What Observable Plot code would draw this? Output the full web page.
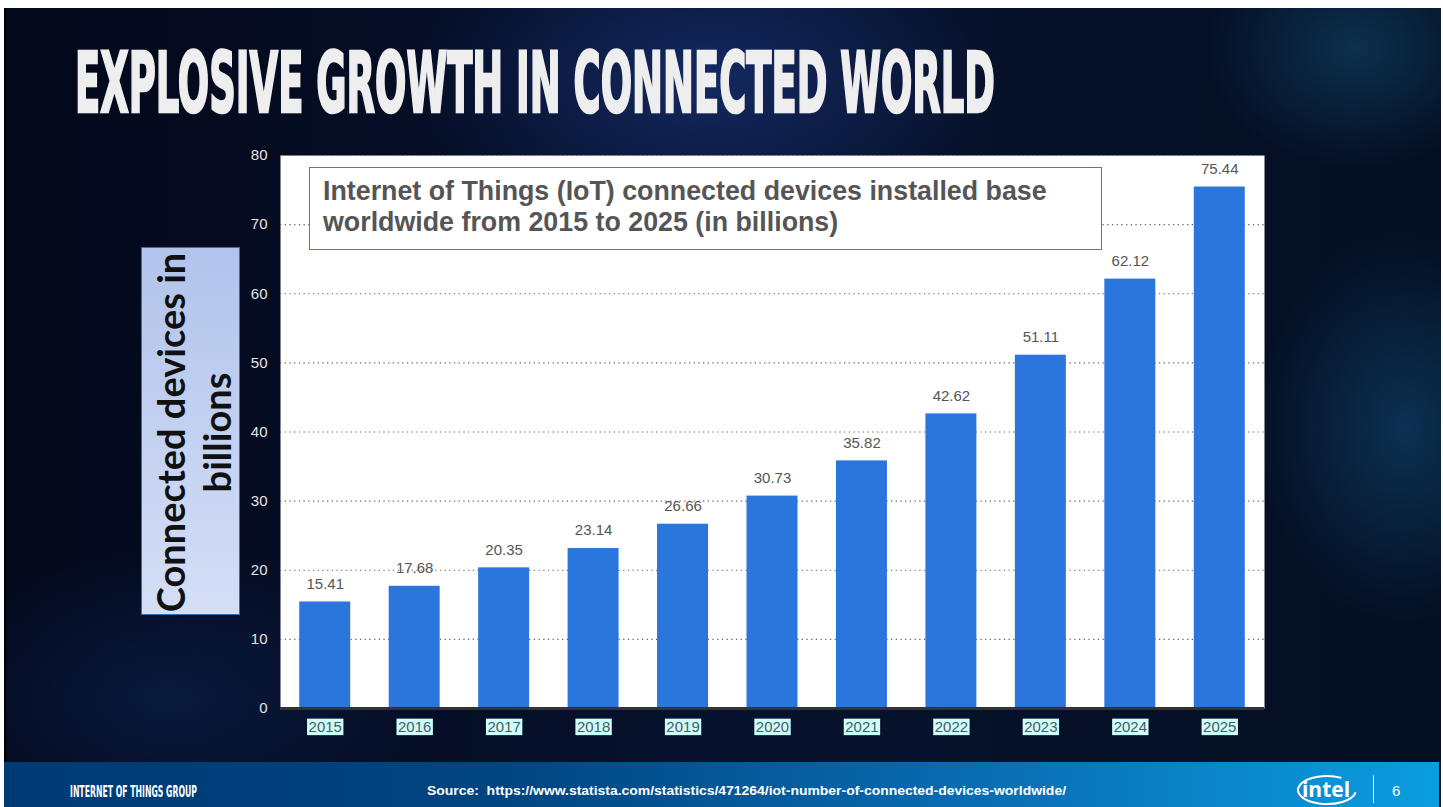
<!DOCTYPE html>
<html><head><meta charset="utf-8">
<script src="https://cdn.jsdelivr.net/npm/d3@7"></script>
<script src="https://cdn.jsdelivr.net/npm/@observablehq/plot@0.6"></script>
<style>
html,body{margin:0;padding:0;background:#fff;width:1443px;height:807px;overflow:hidden;}
#slide{position:absolute;left:4px;top:8px;width:1435px;height:799px;
 background:
  radial-gradient(ellipse 420px 230px at 700px 70px, rgba(30,60,140,0.55), rgba(0,0,0,0) 70%),
  radial-gradient(ellipse 200px 260px at 1400px 420px, rgba(20,90,140,0.45), rgba(0,0,0,0) 75%),
  radial-gradient(ellipse 200px 160px at 1350px 40px, rgba(20,80,120,0.5), rgba(0,0,0,0) 75%),
  radial-gradient(ellipse 380px 220px at 160px 690px, rgba(15,45,100,0.45), rgba(0,0,0,0) 70%),
  linear-gradient(90deg, #03081a 0%, #07122e 50%, #040f22 100%);
 border-left:2px solid #000;}
#footer{position:absolute;left:4px;top:762px;width:1435px;height:45px;
 background:linear-gradient(90deg,#003a74 0%,#004580 35%,#0a6fb5 70%,#0a9ddf 100%);}
#chart{position:absolute;left:0;top:0;}
#overlay{position:absolute;left:0;top:0;}
#subtitle{position:absolute;left:309px;top:167px;width:793px;height:83px;box-sizing:border-box;
 border:1.5px solid #2a85da;background:#fff;color:#555;font:bold 26.8px "Liberation Sans",Arial,sans-serif;
 line-height:31px;padding:8px 0 0 13px;white-space:nowrap;}
#ytitle{position:absolute;left:141px;top:247px;width:99px;height:368px;box-sizing:border-box;
 border:1.5px solid #2e6fb5;background:linear-gradient(180deg,#b2c4ec,#d4def6);}
#ytitle div{position:absolute;width:368px;height:99px;left:-134.5px;top:134.5px;transform:rotate(-90deg);
 display:flex;align-items:center;justify-content:center;text-align:center;
 font:bold 38px Lato,"Open Sans",sans-serif;line-height:46px;color:#111;white-space:nowrap;}
</style></head><body>
<div id="slide"></div>
<div id="footer"></div>
<div id="chart"></div>
<svg id="overlay" width="1443" height="807">
 <text transform="translate(75,112) scale(1,1.9)" x="0" y="0" textLength="920" lengthAdjust="spacingAndGlyphs" font-family="DejaVu Sans Condensed, DejaVu Sans" font-weight="bold" font-size="44" fill="#eeeeee" stroke="#eeeeee" stroke-width="1.4">EXPLOSIVE GROWTH IN CONNECTED WORLD</text>
 <text x="70" y="797" textLength="127" lengthAdjust="spacingAndGlyphs" font-family="DejaVu Sans Condensed, DejaVu Sans" font-weight="bold" font-size="15" fill="#fff">INTERNET OF THINGS GROUP</text>
 <text x="427" y="795" textLength="639" lengthAdjust="spacingAndGlyphs" font-family="Liberation Sans, Arial" font-weight="bold" font-size="12" fill="#fff" xml:space="preserve">Source:  https://www.statista.com/statistics/471264/iot-number-of-connected-devices-worldwide/</text>
 <path d="M1341.5,777.9 A29,14 0 1 0 1355.6,792.4" fill="none" stroke="#fff" stroke-width="2"/>
 <text x="1326" y="797" text-anchor="middle" font-family="Open Sans, Liberation Sans" font-weight="bold" font-size="21" fill="#fff">intel</text>
 <line x1="1373.5" x2="1373.5" y1="775" y2="803" stroke="#fff" stroke-width="1"/>
 <text x="1392" y="796" font-family="Liberation Sans, Arial" font-size="15" fill="#fff">6</text>
</svg>
<div id="subtitle">Internet of Things (IoT) connected devices installed base<br>worldwide from 2015 to 2025 (in billions)</div>
<div id="ytitle"><div>Connected devices in<br>billions</div></div>
<script>
const years = ["2015","2016","2017","2018","2019","2020","2021","2022","2023","2024","2025"];
const values = [15.41,17.68,20.35,23.14,26.66,30.73,35.82,42.62,51.11,62.12,75.44];
const yTicks = [0,10,20,30,40,50,60,70,80];
const data = years.map((year,i)=>({year, value: values[i]}));

const plot = Plot.plot({
  width: 1443, height: 807,
  marginLeft: 280, marginRight: 179, marginTop: 155, marginBottom: 99,
  style: {background: "transparent", fontFamily: "Liberation Sans, Arial, sans-serif", overflow: "visible"},
  x: {type: "band", domain: years, paddingInner: 0.43, paddingOuter: 0.215, round: false, axis: null},
  y: {domain: [0, 80], axis: null},
  marks: [
    Plot.frame({fill: "white", stroke: "none"}),
    Plot.gridY(yTicks, {stroke: "#666", strokeOpacity: 1, strokeWidth: 1.2, strokeDasharray: "1.3,3.4"}),
    Plot.barY(data, {x: "year", y: "value", fill: "#2a76dc"}),
    Plot.text(data, {x: "year", y: "value", text: d => d.value.toFixed(2), dy: -18, fill: "#555", fontSize: 15}),
    Plot.ruleY([0], {stroke: "#333", strokeWidth: 3}),
    Plot.axisY(yTicks, {tickSize: 0, tickPadding: 13, fontSize: 15, fill: "#e4e4e4", label: null}),
    Plot.axisX({tickSize: 0, tickPadding: 13, fontSize: 15, fill: "#555", label: null})
  ]
});
document.getElementById("chart").append(plot);
plot.querySelectorAll('g[aria-label="x-axis tick label"] text').forEach(t => {
  const b = t.getBBox();
  const r = document.createElementNS("http://www.w3.org/2000/svg", "rect");
  r.setAttribute("x", b.x - 1.5);
  r.setAttribute("y", b.y + 0.5);
  r.setAttribute("width", b.width + 3);
  r.setAttribute("height", b.height - 0.5);
  r.setAttribute("fill", "#ccffff");
  if (t.getAttribute("transform")) r.setAttribute("transform", t.getAttribute("transform"));
  t.parentNode.insertBefore(r, t);
});
</script>
</body></html>
